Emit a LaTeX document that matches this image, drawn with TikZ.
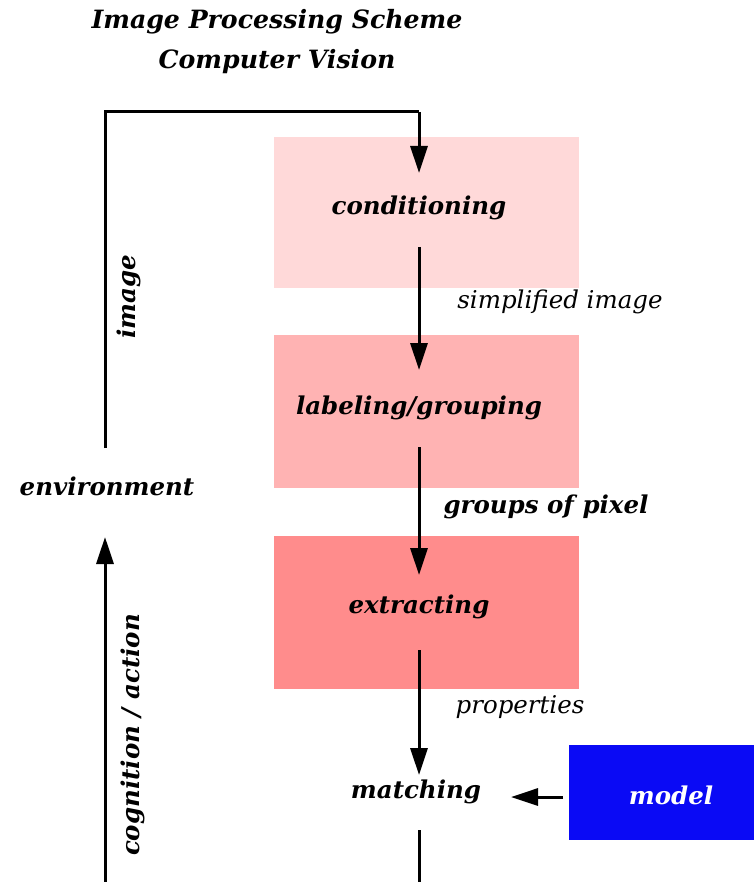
\documentclass[tikz,border=0pt]{standalone}
\usepackage{fontspec}
\setmainfont{DejaVu Serif}
\usetikzlibrary{arrows.meta,calc}
\definecolor{condcol}{RGB}{255,217,217}
\definecolor{labcol}{RGB}{255,179,179}
\definecolor{extcol}{RGB}{255,140,140}
\definecolor{modelcol}{RGB}{10,10,245}
\begin{document}
\begin{tikzpicture}[x=1pt,y=-1pt,
  box/.style={draw=none,inner sep=0,anchor=north west},
  lbl/.style={font=\fontsize{24.5}{28}\selectfont\bfseries\itshape,inner sep=0},
  thin lbl/.style={font=\fontsize{24.5}{28}\selectfont\itshape,inner sep=0},
  arr/.style={line width=3pt,-{Triangle[length=27pt,width=17pt]}},
  ln/.style={line width=3pt}]
\useasboundingbox (0,0) rectangle (754,882);
\fill[white] (0,0) rectangle (754,882);
% boxes
\node[box,fill=condcol,minimum width=305,minimum height=151] (condbox) at (274,137) {};
\node[box,fill=labcol,minimum width=305,minimum height=153] (labbox) at (274,335) {};
\node[box,fill=extcol,minimum width=305,minimum height=153] (extbox) at (274,536) {};
\node[box,fill=modelcol,minimum width=185,minimum height=95] (modelbox) at (569,745) {};
% title
\node[lbl,font=\fontsize{25.2}{30}\selectfont\bfseries\itshape] (t1) at (277,22) {Image Processing Scheme};
\node[lbl,font=\fontsize{25.2}{30}\selectfont\bfseries\itshape] (t2) at (277,62) {Computer Vision};
% labels
\node[lbl] (cond) at (419,208) {conditioning};
\node[lbl] (lab) at (419,408) {labeling/grouping};
\node[lbl] (ext) at (419,607) {extracting};
\node[lbl] (match) at (416,792) {matching};
\node[lbl,text=white] (model) at (671,795) {model};
\node[lbl] (env) at (107,486) {environment};
\node[lbl,rotate=90] (img) at (129,297) {image};
\node[lbl,rotate=90] (cog) at (133,735) {cognition / action};
\node[thin lbl] (simp) at (560,302) {simplified image};
\node[lbl] (grp) at (546,507) {groups of pixel};
\node[thin lbl] (prop) at (520,707) {properties};
% coordinates
\coordinate (envtop) at (105,448);
\coordinate (tl) at (105,112);
\coordinate (tr) at (419,112);
\coordinate (condin) at (419,173);
\coordinate (bot) at (419,882);
\coordinate (botl) at (105,882);
\coordinate (envin) at (105,537);
\coordinate (matchin) at (419,775);
\coordinate (matchout) at (419,830);
\coordinate (mstart) at (563,797);
\coordinate (mend) at (511,797);
% connectors
\draw[ln] (envtop) -- (tl) -- (tr);
\draw[arr] (tr) -- (condin);
\draw[arr] ($(cond)+(0,39)$) -- ($(lab)+(0,-38)$);
\draw[arr] ($(lab)+(0,39)$) -- ($(ext)+(0,-32)$);
\draw[arr] ($(ext)+(0,43)$) -- (matchin);
\draw[ln] (matchout) -- (bot);
\draw[arr] (botl) -- (envin);
\draw[arr] (mstart) -- (mend);
\end{tikzpicture}
\end{document}
